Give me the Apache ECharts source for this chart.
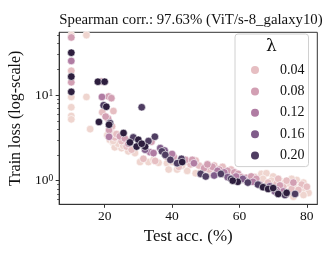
<!DOCTYPE html>
<html><head><meta charset="utf-8">
<script src="https://cdn.jsdelivr.net/npm/echarts@6/dist/echarts.min.js"></script>
<style>html,body{margin:0;padding:0;background:#fff}#c{width:329px;height:256px}</style>
</head><body><div id="c"></div>
<script>
// ---- data: [test acc (%), train loss] per lambda colour group ----
const g000 = [[10.1,50],[10.1,9.5],[10.1,7.2],[10.1,5.7],[10.1,5.2],[14.6,50],[14.6,9.5],[15.7,4.0],
  [22.0,3.6],[20.8,3.4],[21.5,3.0],[22.5,2.8],[24.2,2.5],[23.0,2.45],[25.0,2.4],[24.0,2.7],[25.5,2.55],[27.0,2.2],[29.0,2.1],[22.5,2.9],
  [30.5,1.65],[33.0,1.65],[36.0,1.62],[38.5,1.6],[40.0,1.65],[34.5,1.75],
  [39.0,1.35],[41.5,1.35],[44.5,1.3],[47.0,1.22],[43.0,1.5],[45.0,1.62],
  [51.5,1.2],[53.0,1.25],[56.0,1.15],[58.8,1.15],[49.0,1.25],[54.5,1.4],
  [66.5,1.2],[68.0,1.22],[70.0,1.12],[63.0,1.0],[67.0,1.05],[69.5,1.0],
  [72.0,1.0],[73.5,0.95],[75.0,0.9],[76.5,0.85],[78.0,0.82],[79.5,0.78],[80.5,0.72],[77.0,0.72],[74.5,0.75],[72.5,0.8],[79.0,0.68],[76.0,0.65],[77.0,1.02],[79.0,0.95],[75.5,1.05]];
const g004 = [[10.1,19.2],[22.6,6.5],[19.3,6.3],[22.2,4.3],[23.0,3.2],[23.5,3.5],[25.0,2.9],[26.5,2.5],[28.0,2.3],[35.0,1.7],[31.5,1.8],
  [45.5,1.55],[48.0,1.5],[42.0,1.45],[52.5,1.5],[55.0,1.45],[57.5,1.35],[51.0,1.35],[47.0,1.72],
  [68.5,0.95],[71.0,0.92],[64.5,1.1],[71.5,1.05],[73.0,0.85],[75.5,0.8],[78.5,0.9],[80.0,0.85],[77.5,0.78],[74.0,1.0]];
const g008 = [[10.1,47],[10.1,14.1],[19.0,14.4],[21.2,9.6],[22.0,9.2],[21.0,5.3],[20.3,5.6],[21.3,3.9],[24.5,3.3],[26.0,3.1],[27.0,2.7],[33.9,2.85],
  [38.5,1.9],[40.5,1.9],[44.0,1.75],[46.0,1.75],
  [49.5,1.4],[52.0,1.45],[54.0,1.35],[56.5,1.3],[58.5,1.25],[59.6,1.2],[50.5,1.55],
  [60.5,1.1],[62.0,1.08],[63.5,1.12],[65.0,1.05],[72.0,0.88],[74.0,0.7],[76.0,0.95]];
const g012 = [[10.1,25],[19.2,9.5],[21.3,3.25],[33.5,2.15],[34.5,2.1],[40.0,2.05],[46.5,1.6],
  [53.5,1.3],[55.5,1.25],[59.0,1.12],[64.0,0.97],[61.5,1.02],[66.0,0.9],[73.0,0.75],[71.0,0.78]];
const g016 = [[36.5,2.4],[32.0,2.3],[37.8,2.25],[56.5,1.1],[52.5,1.15],[61.0,1.05],[69.0,0.86],[70.5,0.75]];
const g020 = [[19.7,7.6],[21.6,4.7],[34.9,3.26],[28.5,3.2],[33.0,2.9],[37.0,2.2],[38.0,2.0],[42.8,1.8],[41.5,1.6],[39.5,1.75],
  [48.5,1.2],[50.0,1.12],[54.5,1.2],[57.5,1.05],[65.5,0.9],[62.5,0.95],[73.5,0.68],[76.5,0.7],[31.0,7.2]];
const g024 = [[10.1,31.2],[10.1,16.4],[10.1,10.9],[18.0,14.3],[20.0,14.3],[20.5,7.3],[18.3,4.85],[21.3,4.5],
  [25.6,3.6],[30.0,3.0],[32.0,2.5],[29.5,2.5],[27.5,2.8],[31.0,2.7],[43.0,1.65],[59.5,0.97],[58.0,1.0],
  [67.0,0.84],[68.5,0.8],[70.0,0.82],[74.0,0.72],[71.5,0.7]];
const groups = [g000, g004, g008, g012, g016, g020, g024];
const groupNames = ['0.00', '0.04', '0.08', '0.12', '0.16', '0.20', '0.24'];
const legendNames = ['0.04', '0.08', '0.12', '0.16', '0.20'];
const xTicks = [20, 40, 60, 80];
const yTicks = [1, 10];
const yMinorTicks = [0.6, 0.7, 0.8, 0.9, 2, 3, 4, 5, 6, 7, 8, 9, 20, 30, 40, 50];

const colors = ['#efd5cf', '#e6bec2', '#d29fb3', '#b07ca3', '#805c8a', '#4f3d62', '#2d1e3e'];
const serif = 'Liberation Serif';

const chart = echarts.init(document.getElementById('c'), null, {renderer: 'canvas'});
const series = groups.map((g, i) => ({
  type: 'scatter', name: groupNames[i], data: g, symbolSize: 7.6,
  itemStyle: {color: colors[i], borderColor: '#fff', borderWidth: 0.6, opacity: 1},
  z: 2
}));
series.push({type: 'scatter', yAxisIndex: 1, data: [], silent: true});

chart.setOption({
  animation: false,
  title: {text: 'Spearman corr.: 97.63% (ViT/s-8_galaxy10)', left: 186, top: 8, textAlign: 'center',
    textStyle: {fontFamily: serif, fontWeight: 'normal', fontSize: 14.8, color: '#111'}},
  grid: {left: 57, right: 11.7, top: 32.3, bottom: 51.7, show: true, borderColor: '#333', borderWidth: 1},
  xAxis: {type: 'value', min: 6.5, max: 83.1,
    name: 'Test acc. (%)', nameLocation: 'middle', nameGap: 23,
    nameTextStyle: {fontFamily: serif, fontSize: 17, color: '#111'},
    axisLine: {show: true, lineStyle: {color: '#333', width: 1}},
    axisTick: {show: true, length: 3.5, customValues: xTicks, lineStyle: {color: '#333'}},
    axisLabel: {customValues: xTicks, fontFamily: serif, fontSize: 13.5, color: '#111', margin: 5},
    splitLine: {show: false}},
  yAxis: [{type: 'log', logBase: 10, min: 0.53, max: 54,
    name: 'Train loss (log-scale)', nameLocation: 'middle', nameGap: 30,
    nameTextStyle: {fontFamily: serif, fontSize: 16, color: '#111'},
    axisLine: {show: true, lineStyle: {color: '#333', width: 1}},
    axisTick: {show: true, length: 3.5, customValues: yTicks, lineStyle: {color: '#333'}},
    axisLabel: {customValues: yTicks, margin: 6,
      formatter: v => '{b|10}{s|' + Math.round(Math.log10(v)) + '}',
      rich: {b: {fontFamily: serif, fontSize: 13.5, color: '#111', lineHeight: 14},
             s: {fontFamily: serif, fontSize: 9.5, color: '#111', verticalAlign: 'top', lineHeight: 9}}},
    splitLine: {show: false}},
   {type: 'log', logBase: 10, min: 0.53, max: 54, position: 'left', offset: 0,
    axisLine: {show: false},
    axisTick: {show: true, length: 2, customValues: yMinorTicks, lineStyle: {color: '#333', width: 0.8}},
    axisLabel: {show: false}, splitLine: {show: false}}],
  legend: {data: legendNames, orient: 'vertical', left: 235, top: 34,
    padding: [29, 4, 4, 16], itemGap: 7.4, itemWidth: 8, itemHeight: 8, icon: 'circle',
    backgroundColor: 'rgba(255,255,255,0.8)', borderColor: '#d0d0d0', borderWidth: 1, borderRadius: 3,
    textStyle: {fontFamily: serif, fontSize: 14, color: '#111', lineHeight: 12, padding: [0, 0, 0, 16]},
    itemStyle: {borderWidth: 0}},
  graphic: [{type: 'text', left: 266, top: 38, z: 100,
    style: {text: 'λ', font: '17px "DejaVu Serif"', fill: '#111'}}],
  series: series
});
</script></body></html>
